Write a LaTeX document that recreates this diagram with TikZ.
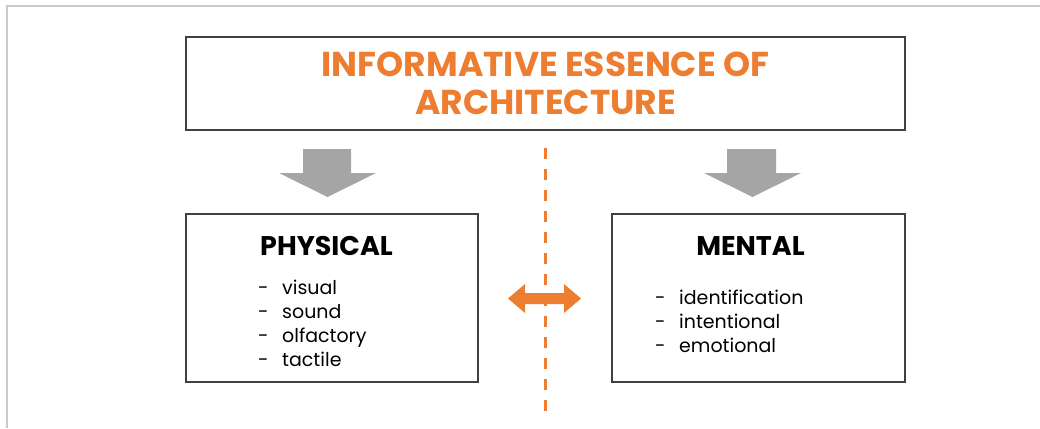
\documentclass[tikz,border=0pt]{standalone}
\usepackage{fontspec}
\setmainfont{Poppins}
\usepackage{tikz}
\usetikzlibrary{positioning}

\definecolor{accent}{HTML}{ED7D31}
\definecolor{arrowgray}{HTML}{A5A5A5}
\definecolor{edgegray}{HTML}{404040}
\definecolor{pagegray}{HTML}{C9C9CE}

\tikzset{
  box/.style={draw=edgegray, line width=1.4pt, fill=white, inner sep=0pt},
  heading/.style={font=\fontsize{27}{27}\selectfont\bfseries, anchor=base, inner sep=0pt},
  items/.style={font=\fontsize{19}{24}\selectfont, align=left, anchor=north west, inner sep=0pt}
}

\newcommand{\itemdash}[1]{\makebox[24pt][l]{-}#1}

\begin{document}
\begin{tikzpicture}[x=1pt, y=-1pt]
      \useasboundingbox (0,0) rectangle (1040,428);
      \draw [pagegray, line width=2pt] (1040,6) -- (7,6) -- (7,428);

      % top box
      \node [box, minimum width=719pt, minimum height=93pt, align=center,
             text=accent, font=\fontsize{34.5}{38.5}\selectfont\bfseries]
            (essence) at (545.5,83.5) {INFORMATIVE ESSENCE OF\\ARCHITECTURE};

      % arrows down
      \fill [arrowgray] (303,149) -- (351,149) -- (351,173) -- (376,173) -- (327.5,197)
            -- (279,173) -- (303,173) -- cycle;
      \fill [arrowgray] (727,149) -- (776,149) -- (776,173) -- (801,173) -- (752.5,197)
            -- (704,173) -- (727,173) -- cycle;

      % the two sides
      \node [box, minimum width=292pt, minimum height=168pt] (physical) at (332,298) {};
      \node [heading] (physhead) at (326.5,255) {PHYSICAL};
      \node [items] (physlist) at (258,279.5)
            {\itemdash{visual}\\\itemdash{sound}\\\itemdash{olfactory}\\\itemdash{tactile}};

      \node [box, minimum width=293pt, minimum height=168pt] (mental) at (758.5,298) {};
      \node [heading] (menthead) at (750.5,255) {MENTAL};
      \node [items] (mentlist) at (655,289.5)
            {\itemdash{identification}\\\itemdash{intentional}\\\itemdash{emotional}};

      % divider
      \draw [accent, line width=3pt, dash pattern=on 11pt off 10pt] (545,148) -- (545,413);
      \fill [accent] (508,298.5) -- (525,284) -- (525,293) -- (564,293) -- (564,284)
            -- (581,298.5) -- (564,313) -- (564,304) -- (525,304) -- (525,313) -- cycle;
\end{tikzpicture}
\end{document}
